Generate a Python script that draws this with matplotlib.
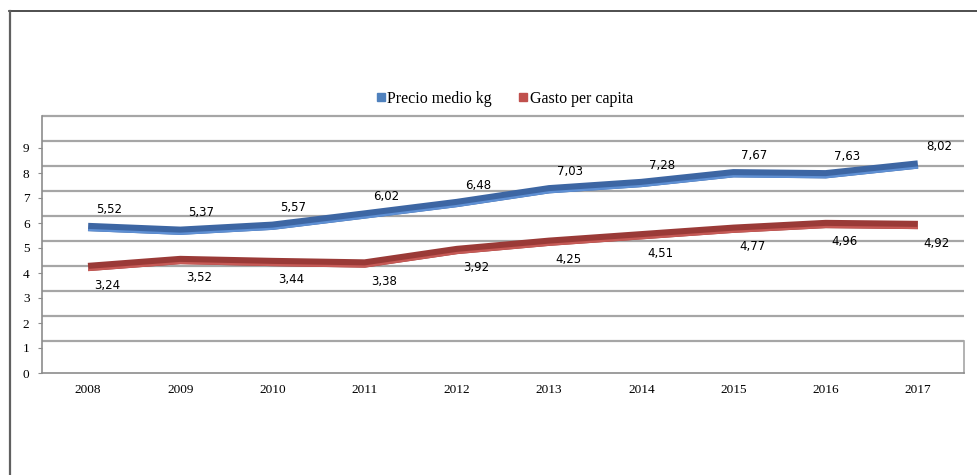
import matplotlib
matplotlib.use("Agg")
import matplotlib.pyplot as plt
from matplotlib.lines import Line2D
from matplotlib import transforms

# data
years = ["2008", "2009", "2010", "2011", "2012", "2013", "2014", "2015", "2016", "2017"]
precio = [5.52, 5.37, 5.57, 6.02, 6.48, 7.03, 7.28, 7.67, 7.63, 8.02]
gasto = [3.24, 3.52, 3.44, 3.38, 3.92, 4.25, 4.51, 4.77, 4.96, 4.92]
yticks = list(range(0, 10))

W, H = 977, 475
fig = plt.figure(figsize=(W / 100, H / 100), dpi=100)

# outer frame (right and bottom edges are outside the picture)
fig.add_artist(Line2D([9 / W, 1.0], [1 - 10.5 / H] * 2, color="#303030", lw=1.2))
fig.add_artist(Line2D([9.5 / W] * 2, [0, 1 - 11 / H], color="#606060", lw=1.6))

# plot area: y=0 at pixel 373, 25 px per unit, back wall top at pixel 116
ax = fig.add_axes([42 / W, (H - 373) / H, (964 - 42) / W, (373 - 116) / H])
ax.set_xlim(-0.5, 9.5)
ax.set_ylim(0, (373 - 116) / 25)

# 3D depth offsets (pixels)
depth = 32
back = transforms.offset_copy(ax.transData, fig=fig, x=0, y=depth, units="dots")
row_blue = transforms.offset_copy(ax.transData, fig=fig, x=0, y=8, units="dots")
row_red = transforms.offset_copy(ax.transData, fig=fig, x=0, y=25, units="dots")
row_blue_lo = transforms.offset_copy(ax.transData, fig=fig, x=0, y=5, units="dots")
row_red_lo = transforms.offset_copy(ax.transData, fig=fig, x=0, y=22, units="dots")

# back wall gridlines
ax.hlines(yticks, -0.5, 9.5, transform=back, colors="#a6a6a6", lw=1.6, clip_on=False, zorder=1)
# floor
ax.plot([9.5, 9.5], [0, depth / 25], color="#a6a6a6", lw=1.2, clip_on=False, zorder=1)

for sp in ["top", "right"]:
    ax.spines[sp].set_visible(False)
ax.spines["left"].set_color("#8c8c8c")
ax.spines["bottom"].set_color("#8c8c8c")
ax.spines["left"].set_linewidth(1.2)
ax.spines["bottom"].set_linewidth(1.2)

x = list(range(len(years)))

# ribbons
ax.plot(x, gasto, transform=row_red, color="#9a3a37", lw=6.0, solid_capstyle="butt",
        solid_joinstyle="round", zorder=3, clip_on=False)
ax.plot(x, gasto, transform=row_red_lo, color="#c65a56", lw=1.6, solid_capstyle="butt",
        solid_joinstyle="round", zorder=3, clip_on=False)
ax.plot(x, precio, transform=row_blue, color="#3d66a3", lw=6.0, solid_capstyle="butt",
        solid_joinstyle="round", zorder=4, clip_on=False)
ax.plot(x, precio, transform=row_blue_lo, color="#5f90d4", lw=1.6, solid_capstyle="butt",
        solid_joinstyle="round", zorder=4, clip_on=False)

# data labels
for i in x:
    ax.annotate(f"{precio[i]:.2f}".replace(".", ","), (i, precio[i]), xytext=(21, 26),
                textcoords="offset pixels", ha="center", va="center", fontsize=8.5,
                family="DejaVu Sans", color="#000000")
    ax.annotate(f"{gasto[i]:.2f}".replace(".", ","), (i, gasto[i]), xytext=(19, 7),
                textcoords="offset pixels", ha="center", va="center", fontsize=8.5,
                family="DejaVu Sans", color="#000000")

ax.set_yticks(yticks)
ax.set_yticklabels([str(t) for t in yticks], family="Liberation Serif", fontsize=9.5)
ax.set_xticks(x)
ax.set_xticklabels(years, family="Liberation Serif", fontsize=9.5)
ax.tick_params(axis="y", length=3, color="#8c8c8c", pad=6)
ax.tick_params(axis="x", length=0, pad=8)

# legend
handles = [Line2D([], [], marker="s", ls="none", color="#4f81bd", markersize=5.5),
           Line2D([], [], marker="s", ls="none", color="#c0504d", markersize=5.5)]
fig.legend(handles, ["Precio medio kg", "Gasto per capita"], loc="center",
           bbox_to_anchor=(505 / W, 1 - 99 / H), ncol=2, frameon=False,
           handlelength=0.5, handletextpad=0.15, columnspacing=1.7,
           prop={"family": "Liberation Serif", "size": 11.5})

fig.savefig("out.png", dpi=100)
